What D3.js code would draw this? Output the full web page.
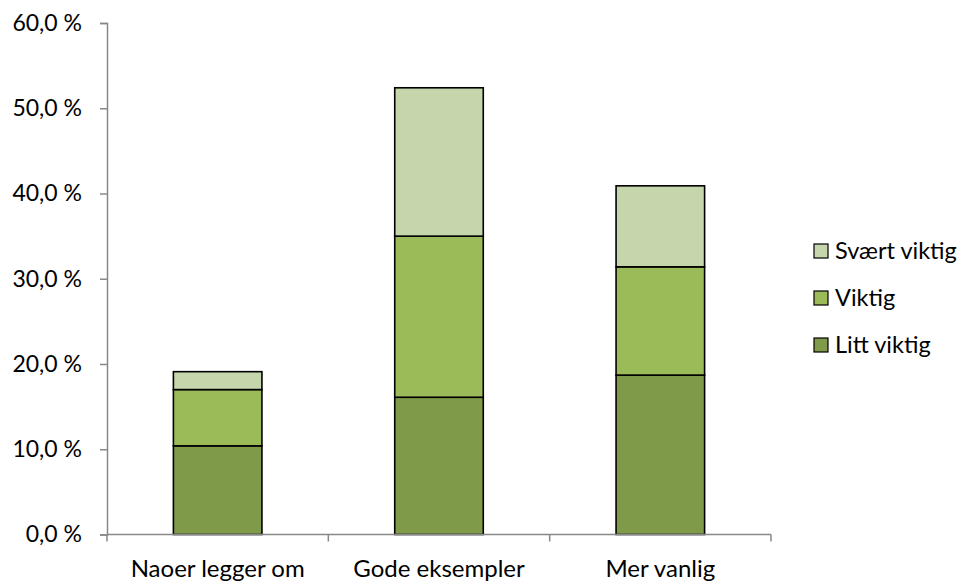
<!DOCTYPE html>
<html>
<head>
<meta charset="utf-8">
<script src="https://d3js.org/d3.v7.min.js"></script>
<style>
  body { margin: 0; background: #fff; }
  text { font-family: Lato, "Open Sans", sans-serif; fill: #000; }
</style>
</head>
<body>
<svg width="964" height="582"></svg>
<script>
// data (percent)
var categories = ["Naoer legger om", "Gode eksempler", "Mer vanlig"];
var littViktig  = [10.4, 16.1, 18.7];
var viktig      = [6.6, 18.9, 12.7];
var svaertViktig = [2.1, 17.4, 9.5];
var seriesNames = ["Litt viktig", "Viktig", "Svært viktig"];
var colors = ["#7f9a48", "#9bbb59", "#c6d6ac"];
var yTicks = [0, 10, 20, 30, 40, 50, 60];

var svg = d3.select("svg");
var plotLeft = 107, plotRight = 771, plotTop = 23, plotBottom = 534.5;

var rows = categories.map(function(c, i) {
  return { cat: c, "Litt viktig": littViktig[i], "Viktig": viktig[i], "Svært viktig": svaertViktig[i] };
});
var stacked = d3.stack().keys(seriesNames)(rows);

var x = d3.scaleBand().domain(categories).range([plotLeft, plotRight]).paddingInner(0.6).paddingOuter(0.3);
var y = d3.scaleLinear().domain([0, 60]).range([plotBottom, plotTop]);

// bars
svg.append("g").selectAll("g")
  .data(stacked)
  .enter().append("g")
  .attr("fill", function(d, i) { return colors[i]; })
  .selectAll("rect")
  .data(function(d) { return d; })
  .enter().append("rect")
  .attr("x", function(d) { return x(d.data.cat); })
  .attr("y", function(d) { return y(d[1]); })
  .attr("width", x.bandwidth())
  .attr("height", function(d) { return y(d[0]) - y(d[1]); })
  .attr("stroke", "#000")
  .attr("stroke-width", 1.6);

// y axis
var yAxis = svg.append("g")
  .attr("transform", "translate(" + plotLeft + ",0)")
  .call(d3.axisLeft(y).tickValues(yTicks).tickSize(7).tickPadding(18)
    .tickFormat(function(d) { return d.toFixed(1).replace(".", ",") + " %"; }));
yAxis.select(".domain").attr("stroke", "#888").attr("stroke-width", 1.5);
yAxis.selectAll(".tick line").attr("stroke", "#888").attr("stroke-width", 1.5);
yAxis.selectAll("text").attr("font-size", "23px").style("font-family", "Lato, sans-serif").attr("fill", "#000");

// x axis
var xEdge = d3.scalePoint().domain(d3.range(categories.length + 1)).range([plotLeft, plotRight]);
var xAxis = svg.append("g")
  .attr("transform", "translate(0," + plotBottom + ")");
xAxis.append("line")
  .attr("x1", plotLeft).attr("x2", plotRight)
  .attr("stroke", "#888").attr("stroke-width", 1.5);
xAxis.selectAll(".xt")
  .data(d3.range(categories.length + 1))
  .enter().append("line")
  .attr("x1", function(d) { return xEdge(d); })
  .attr("x2", function(d) { return xEdge(d); })
  .attr("y1", 0).attr("y2", 7)
  .attr("stroke", "#888").attr("stroke-width", 1.5);
xAxis.selectAll(".xl")
  .data(categories)
  .enter().append("text")
  .attr("x", function(d) { return x(d) + x.bandwidth() / 2; })
  .attr("y", 42)
  .attr("text-anchor", "middle")
  .attr("font-size", "24px")
  .text(function(d) { return d; });

// legend (reverse order)
var legend = svg.append("g").attr("transform", "translate(814,0)");
var legendItems = [2, 1, 0];
legendItems.forEach(function(si, k) {
  var cy = 251 + k * 47;
  legend.append("rect")
    .attr("x", 0).attr("y", cy - 7)
    .attr("width", 14).attr("height", 14)
    .attr("fill", colors[si])
    .attr("stroke", "#000").attr("stroke-width", 1.2);
  legend.append("text")
    .attr("x", 21).attr("y", cy + 8)
    .attr("font-size", "23.5px")
    .text(seriesNames[si]);
});
</script>
</body>
</html>
